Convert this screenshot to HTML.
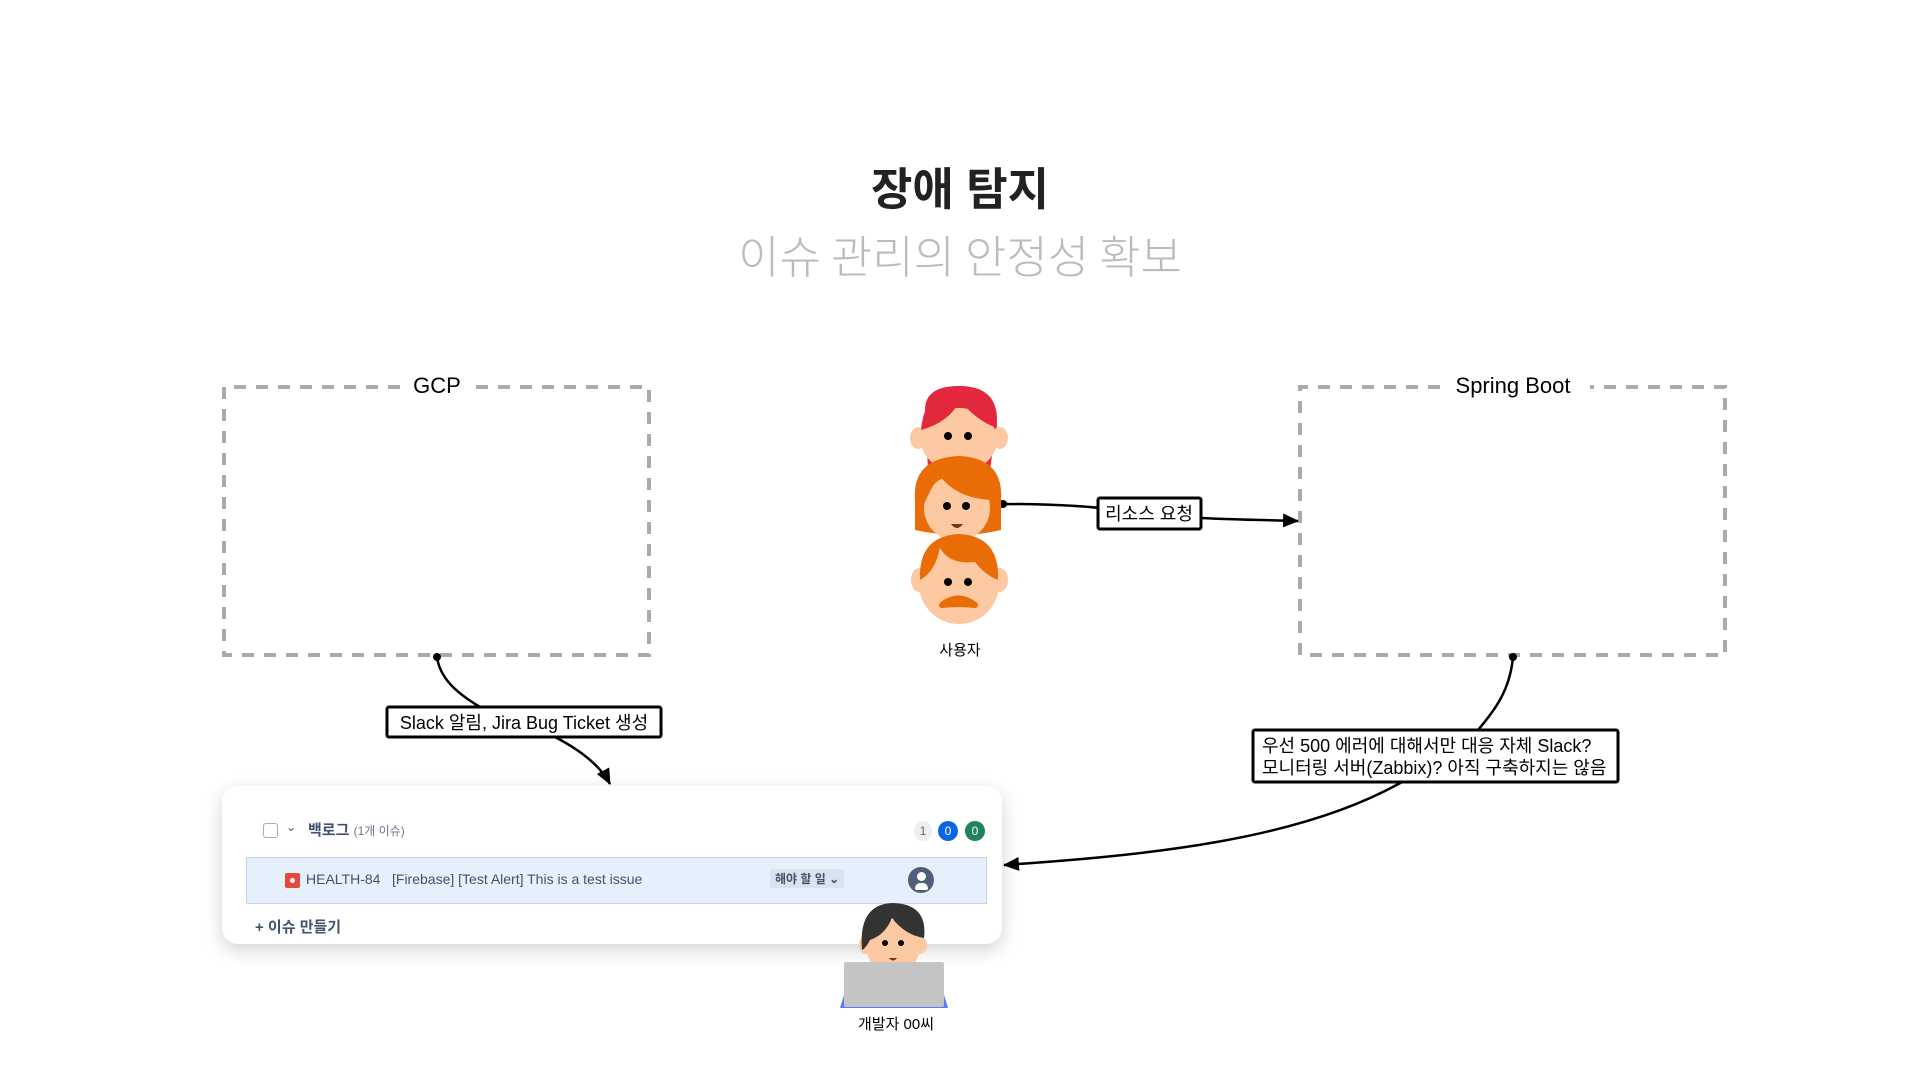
<!DOCTYPE html>
<html><head><meta charset="utf-8"><style>
html,body{margin:0;padding:0;background:#fff;width:1920px;height:1080px;overflow:hidden}
body{font-family:"Liberation Sans","Noto Sans CJK KR",sans-serif;position:relative}
.t{position:absolute;white-space:nowrap}
.card{position:absolute;left:222px;top:786px;width:780px;height:158px;background:#fff;border-radius:16px;box-shadow:0 6px 18px rgba(0,0,0,0.18)}
</style></head><body>
<div class="t" style="left:0;width:1920px;text-align:center;top:153px;font-size:45px;font-weight:bold;color:#222">장애 탐지</div>
<div class="t" style="left:0;width:1920px;text-align:center;top:228px;font-size:45px;color:#bbb;font-family:'Noto Sans CJK KR',sans-serif;font-weight:300;line-height:1.15">이슈 관리의 안정성 확보</div>

<div class="card">
  <div class="t" style="left:41px;top:37px;width:13px;height:13px;border:1.5px solid #aab;border-radius:3px"></div>
  <div class="t" style="left:64px;top:34px;font-size:12px;color:#42526e">⌄</div>
  <div class="t" style="left:86px;top:33px;font-size:15px;font-weight:bold;color:#42526e">백로그 <span style="font-size:12px;font-weight:normal;color:#6b778c">(1개 이슈)</span></div>
  <div class="t" style="left:692px;top:35px;width:18px;height:20px;border-radius:10px;background:#eee;color:#666;font-size:12px;text-align:center;line-height:20px">1</div>
  <div class="t" style="left:716px;top:35px;width:20px;height:20px;border-radius:10px;background:#0c66e4;color:#fff;font-size:12px;text-align:center;line-height:20px">0</div>
  <div class="t" style="left:743px;top:35px;width:20px;height:20px;border-radius:10px;background:#1f845a;color:#fff;font-size:12px;text-align:center;line-height:20px">0</div>
  <div class="t" style="left:24px;top:71px;width:739px;height:45px;background:#e6effc;border:1px solid #c7d3e6"></div>
  <div class="t" style="left:63px;top:87px;width:15px;height:15px;background:#e5493a;border-radius:2px"><div style="width:5px;height:5px;background:#fff;border-radius:50%;margin:5px"></div></div>
  <div class="t" style="left:84px;top:85px;font-size:14px;color:#42526e">HEALTH-84</div>
  <div class="t" style="left:170px;top:85px;font-size:14px;color:#42526e">[Firebase] [Test Alert] This is a test issue</div>
  <div class="t" style="left:548px;top:83px;padding:1px 5px;background:#d9e2ee;border-radius:3px;font-size:12px;font-weight:bold;color:#42526e">해야 할 일 ⌄</div>
  <div class="t" style="left:686px;top:81px;width:26px;height:26px;border-radius:50%;background:#505f79"><div style="width:9px;height:9px;background:#fff;border-radius:50%;margin:5px auto 0"></div><div style="width:13px;height:7px;background:#fff;border-radius:6px 6px 2px 2px;margin:2px auto 0"></div></div>
  <div class="t" style="left:33px;top:130px;font-size:15px;font-weight:bold;color:#42526e">+ 이슈 만들기</div>
</div>

<svg width="1920" height="1080" style="position:absolute;left:0;top:0" xmlns="http://www.w3.org/2000/svg">
<defs>
<marker id="b" markerWidth="16" markerHeight="14" refX="15" refY="7" orient="auto" markerUnits="userSpaceOnUse"><path d="M0,0 L16,7 L0,14z" fill="#000"/></marker></defs>
<g fill="none" stroke="#aaa" stroke-width="4" stroke-dasharray="12 10">
<path d="M400 387 H224 V655 H649 V387 H476"/>
<path d="M1440 387 H1300 V655 H1725 V387 H1590"/>
</g>
<text x="437" y="393" font-size="22" text-anchor="middle" font-family="Liberation Sans,sans-serif">GCP</text>
<text x="1513" y="393" font-size="22" text-anchor="middle" font-family="Liberation Sans,sans-serif">Spring Boot</text>
<g fill="none" stroke="#000" stroke-width="2.5">
<path d="M1002 504 C1050 504 1080 506 1100 508"/>
<path d="M1201 518 C1240 520 1270 520 1298 521" marker-end="url(#b)"/>
<path d="M437 657 C440 680 460 695 480 707"/>
<path d="M555 737 C580 750 600 765 610 784" marker-end="url(#b)"/>
<path d="M1513 657 C1510 690 1495 710 1478 730"/>
<path d="M1402 782 C1300 840 1150 855 1004 865" marker-end="url(#b)"/>
</g>
<circle cx="1003" cy="504" r="4"/><circle cx="437" cy="657" r="4"/><circle cx="1513" cy="657" r="4"/>
<rect x="1098" y="498" width="103" height="31" fill="#fff" stroke="#000" stroke-width="3" rx="2"/>
<text x="1149" y="520" font-size="18" text-anchor="middle" font-family="Liberation Sans,Noto Sans CJK KR,sans-serif">리소스 요청</text>
<rect x="387" y="707" width="274" height="30" fill="#fff" stroke="#000" stroke-width="3" rx="2"/>
<text x="524" y="729" font-size="18" text-anchor="middle" font-family="Liberation Sans,Noto Sans CJK KR,sans-serif">Slack 알림, Jira Bug Ticket 생성</text>
<rect x="1253" y="730" width="365" height="52" fill="#fff" stroke="#000" stroke-width="3" rx="2"/>
<text x="1262" y="752" font-size="18" font-family="Liberation Sans,Noto Sans CJK KR,sans-serif">우선 500 에러에 대해서만 대응 자체 Slack?</text>
<text x="1262" y="774" font-size="18" font-family="Liberation Sans,Noto Sans CJK KR,sans-serif">모니터링 서버(Zabbix)? 아직 구축하지는 않음</text>
<g>
<path d="M925 410 Q925 386 959 386 Q997 386 997 420 L990 470 L928 470 Z" fill="#e3283e"/>
<ellipse cx="918" cy="438" rx="8" ry="11" fill="#fdc9a2"/><ellipse cx="1000" cy="438" rx="8" ry="11" fill="#fdc9a2"/>
<ellipse cx="959" cy="440" rx="38" ry="32" fill="#fdc9a2"/>
<path d="M921 430 Q925 388 959 386 Q997 388 997 428 Q975 420 960 400 Q950 422 921 430Z" fill="#e3283e"/>
<circle cx="948" cy="436" r="4"/><circle cx="968" cy="436" r="4"/>
<path d="M915 500 Q912 458 959 456 Q1004 458 1001 500 L1001 530 Q959 540 915 530Z" fill="#e96c07"/>
<ellipse cx="957" cy="508" rx="33" ry="33" fill="#fdc9a2"/>
<path d="M924 504 Q935 480 940 476 Q958 500 996 500 Q995 458 959 456 Q920 460 924 504Z" fill="#e96c07"/>
<circle cx="947" cy="506" r="4"/><circle cx="966" cy="506" r="4"/><path d="M951 524 h12 q-6 8 -12 0z" fill="#6b3a1a"/>
<ellipse cx="919" cy="580" rx="8" ry="12" fill="#fdc9a2"/><ellipse cx="1000" cy="580" rx="8" ry="12" fill="#fdc9a2"/>
<ellipse cx="959" cy="584" rx="40" ry="40" fill="#fdc9a2"/>
<path d="M920 580 Q918 536 959 534 Q1000 536 998 580 Q985 575 975 562 Q950 565 940 548 Q935 572 920 580Z" fill="#e96c07"/>
<circle cx="948" cy="582" r="4"/><circle cx="968" cy="582" r="4"/>
<path d="M942 605 Q958 592 975 605 Q958 603 942 605Z" fill="#e96c07" stroke="#e96c07" stroke-width="6" stroke-linejoin="round"/>
</g>
<text x="960" y="655" font-size="15" text-anchor="middle" font-family="Liberation Sans,Noto Sans CJK KR,sans-serif">사용자</text>
<path d="M840 1008 L850 975 L938 975 L948 1008Z" fill="#5b7cf5"/>
<ellipse cx="866" cy="945" rx="7" ry="9" fill="#fdc9a2"/><ellipse cx="920" cy="945" rx="7" ry="9" fill="#fdc9a2"/>
<ellipse cx="893" cy="948" rx="26" ry="28" fill="#fdc9a2"/>
<path d="M862 950 Q858 904 893 903 Q928 904 924 938 Q905 935 892 918 Q885 935 870 940 Q866 948 862 950Z" fill="#333"/>
<circle cx="885" cy="943" r="3"/><circle cx="901" cy="943" r="3"/><path d="M889 958 h8 q-4 5 -8 0z" fill="#6b3a1a"/>
<rect x="844" y="962" width="100" height="45" fill="#c4c4c4" rx="2"/>
<text x="896" y="1029" font-size="15" text-anchor="middle" font-family="Liberation Sans,Noto Sans CJK KR,sans-serif">개발자 00씨</text>
</svg>
</body></html>
